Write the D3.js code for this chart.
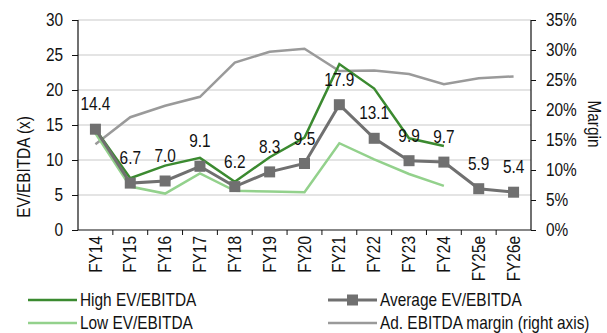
<!DOCTYPE html>
<html>
<head>
<meta charset="utf-8">
<script src="https://cdn.jsdelivr.net/npm/d3@7"></script>
<style>
  html, body { margin: 0; padding: 0; background: #fff; }
  svg text { font-family: 'Liberation Sans', Arial, sans-serif; font-size: 17.5px; fill: #111; }
</style>
</head>
<body>
<svg id="chart" width="607" height="333"></svg>
<script>
const categories = ["FY14","FY15","FY16","FY17","FY18","FY19","FY20","FY21","FY22","FY23","FY24","FY25e","FY26e"];
const highEv = [14.4, 7.4, 9.2, 10.3, 6.9, 10.4, 13.2, 23.7, 20.2, 13.1, 12.0, null, null];
const lowEv = [13.8, 6.2, 5.2, 8.1, 5.6, 5.5, 5.4, 12.4, 10.1, 8.0, 6.3, null, null];
const avgEv = [14.4, 6.7, 7.0, 9.1, 6.2, 8.3, 9.5, 17.9, 13.1, 9.9, 9.7, 5.9, 5.4];
const margin = [14.3, 18.8, 20.7, 22.2, 27.9, 29.7, 30.2, 26.5, 26.6, 26.0, 24.3, 25.3, 25.6];
const leftTicks = [0, 5, 10, 15, 20, 25, 30];
const rightTicks = [0, 5, 10, 15, 20, 25, 30, 35];
const legendItems = [
  {name: "High EV/EBITDA", key: "high"},
  {name: "Average EV/EBITDA", key: "avg"},
  {name: "Low EV/EBITDA", key: "low"},
  {name: "Ad. EBITDA margin (right axis)", key: "margin"}
];

const colors = {high: "#3b8a30", low: "#93d18c", avg: "#707070", margin: "#9a9a9a"};
const SX = 0.88; // narrow type

const svg = d3.select("#chart");
const plot = {left: 78, right: 531, top: 20, bottom: 230};

const x = d3.scaleBand().domain(categories).range([plot.left, plot.right]);
const yL = d3.scaleLinear().domain([0, 30]).range([plot.bottom, plot.top]);
const yR = d3.scaleLinear().domain([0, 35]).range([plot.bottom, plot.top]);
const cx = d => x(d) + x.bandwidth() / 2;

// place a text with horizontal compression
function ntext(parent, tx, ty, rot, anchor, str) {
  return parent.append("text")
    .attr("transform", `translate(${tx},${ty})${rot ? ` rotate(${rot})` : ""} scale(${SX},1)`)
    .attr("text-anchor", anchor).text(str);
}

// gridlines
svg.append("g").selectAll("line").data(leftTicks.filter(t => t > 0)).join("line")
  .attr("x1", plot.left).attr("x2", plot.right)
  .attr("y1", d => yL(d)).attr("y2", d => yL(d))
  .attr("stroke", "#c9c9c9").attr("stroke-width", 1.2);

// left axis
const gL = svg.append("g").attr("transform", `translate(${plot.left},0)`)
  .call(d3.axisLeft(yL).tickValues(leftTicks).tickSize(6).tickPadding(9).tickFormat(d3.format("d")));
// right axis
const gR = svg.append("g").attr("transform", `translate(${plot.right},0)`)
  .call(d3.axisRight(yR).tickValues(rightTicks).tickSize(5).tickPadding(10).tickFormat(d => d + "%"));
// bottom axis
const gB = svg.append("g").attr("transform", `translate(0,${plot.bottom})`)
  .call(d3.axisBottom(x).tickSize(0).tickPadding(0));

[gL, gR].forEach(g => {
  g.selectAll(".tick text").each(function() {
    const t = d3.select(this);
    const xv = +t.attr("x");
    t.attr("x", 0).attr("transform", `translate(${xv},0) scale(${SX},1)`);
  });
});
gB.selectAll(".tick text")
  .attr("transform", `rotate(-90) scale(${SX},1)`)
  .attr("text-anchor", "end")
  .attr("x", -6 / SX).attr("y", 0).attr("dy", "0.35em");

// bottom ticks at band boundaries
svg.append("g").selectAll("line").data(categories.slice(1)).join("line")
  .attr("x1", d => x(d)).attr("x2", d => x(d))
  .attr("y1", plot.bottom).attr("y2", plot.bottom + 5)
  .attr("stroke", "#111").attr("stroke-width", 1);

[gL, gR, gB].forEach(g => {
  g.select(".domain").attr("stroke", "#111").attr("stroke-width", 1.2);
  g.selectAll(".tick line").attr("stroke", "#111");
  g.selectAll(".tick text").attr("font-family", null).attr("font-size", null).style("fill", "#111");
});
gL.select(".domain").attr("d", `M0,${plot.top}V${plot.bottom}`);
gR.select(".domain").attr("d", `M0,${plot.top}V${plot.bottom}`);
gB.select(".domain").attr("d", `M${plot.left},0H${plot.right}`);

// axis titles
ntext(svg, 30, 167, -90, "middle", "EV/EBITDA (x)");
ntext(svg, 588, 124, 90, "middle", "Margin");

const lineL = d3.line().defined(d => d.v != null).x(d => cx(d.c)).y(d => yL(d.v));
const lineR = d3.line().defined(d => d.v != null).x(d => cx(d.c)).y(d => yR(d.v));
const zip = arr => categories.map((c, i) => ({c, v: arr[i]}));

svg.append("path").datum(zip(margin)).attr("d", lineR)
  .attr("fill", "none").attr("stroke", colors.margin).attr("stroke-width", 2.5);
svg.append("path").datum(zip(lowEv)).attr("d", lineL)
  .attr("fill", "none").attr("stroke", colors.low).attr("stroke-width", 2.5);
svg.append("path").datum(zip(highEv)).attr("d", lineL)
  .attr("fill", "none").attr("stroke", colors.high).attr("stroke-width", 2.5);
svg.append("path").datum(zip(avgEv)).attr("d", lineL)
  .attr("fill", "none").attr("stroke", colors.avg).attr("stroke-width", 3);
svg.append("g").selectAll("rect").data(zip(avgEv)).join("rect")
  .attr("x", d => cx(d.c) - 5.5).attr("y", d => yL(d.v) - 5.5)
  .attr("width", 11).attr("height", 11).attr("fill", colors.avg);

// value labels
const vl = svg.append("g");
zip(avgEv).forEach(d => ntext(vl, cx(d.c), yL(d.v) - 19, 0, "middle", d3.format(".1f")(d.v)));

// legend
const legPos = [
  {lx: 28, ty: 300}, {lx: 328, ty: 300},
  {lx: 28, ty: 323}, {lx: 328, ty: 323}
];
const lg = svg.append("g").selectAll("g").data(legendItems).join("g")
  .attr("transform", (d, i) => `translate(${legPos[i].lx},${legPos[i].ty})`);
lg.append("line").attr("x1", 0).attr("x2", 49).attr("y1", 0).attr("y2", 0)
  .attr("stroke", d => colors[d.key]).attr("stroke-width", d => d.key === "avg" ? 3 : 2.5);
lg.filter(d => d.key === "avg").append("rect")
  .attr("x", 19).attr("y", -5.5).attr("width", 11).attr("height", 11).attr("fill", colors.avg);
lg.append("text").attr("transform", `translate(52,0) scale(${SX},1)`).attr("dy", "0.35em").text(d => d.name);
</script>
</body>
</html>
